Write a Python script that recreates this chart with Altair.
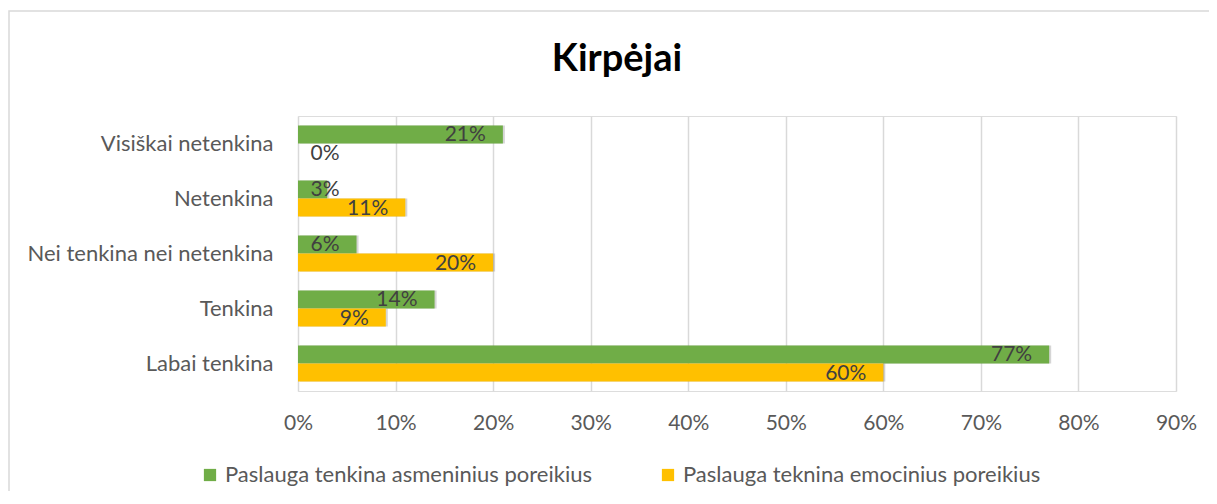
import altair as alt
import pandas as pd

title_text = "Kirpėjai"
categories = ["Visiškai netenkina", "Netenkina", "Nei tenkina nei netenkina", "Tenkina", "Labai tenkina"]
series_names = ["Paslauga tenkina asmeninius poreikius", "Paslauga teknina emocinius poreikius"]
asmeniniai = [0.21, 0.03, 0.06, 0.14, 0.77]
emociniai = [0.00, 0.11, 0.20, 0.09, 0.60]
colors = ["#70AD47", "#FFC000"]
x_ticks = [0, 0.1, 0.2, 0.3, 0.4, 0.5, 0.6, 0.7, 0.8, 0.9]

rows = []
for i, c in enumerate(categories):
    rows.append({"cat": c, "series": series_names[0], "v": asmeniniai[i]})
    rows.append({"cat": c, "series": series_names[1], "v": emociniai[i]})
df = pd.DataFrame(rows)

FONT = "Lato"
W, H = 878, 275

y_enc = alt.Y("cat:N", sort=categories, title=None,
              scale=alt.Scale(paddingInner=0.345, paddingOuter=0.1725),
              axis=alt.Axis(labelFontSize=22, labelColor="#595959", labelPadding=25,
                            ticks=False, domain=False, labelFont=FONT, labelLimit=400))
yoff = alt.YOffset("series:N", sort=series_names, scale=alt.Scale(paddingInner=0, paddingOuter=0))
x_scale = alt.Scale(domain=[0, 0.9], nice=False)

base = alt.Chart(df)

shadow = base.mark_bar(color="#404040", opacity=0.22, xOffset=2).encode(
    x=alt.X("v:Q", scale=x_scale),
    y=y_enc,
    yOffset=yoff,
)

bars = base.mark_bar().encode(
    x=alt.X("v:Q", scale=x_scale,
            axis=alt.Axis(values=x_ticks, format=".0%", title=None, labelFontSize=21,
                          labelColor="#595959", labelPadding=21, ticks=False, domain=False,
                          labelFlush=False, labelOverlap=False,
                          gridColor="#d9d9d9", gridWidth=1.5, labelFont=FONT)),
    y=y_enc,
    yOffset=yoff,
    color=alt.Color("series:N", sort=series_names,
                    scale=alt.Scale(domain=series_names, range=colors),
                    legend=alt.Legend(title=None, orient="none", direction="horizontal",
                                      legendX=-99, legendY=348, symbolType="square",
                                      symbolSize=150, symbolStrokeWidth=0, labelFontSize=22,
                                      labelColor="#595959", columnPadding=65, labelOffset=4,
                                      labelFont=FONT, labelLimit=600)),
)

labels = base.transform_calculate(lx="max(datum.v, 0.06)").mark_text(
    align="right", baseline="middle", dx=-17, dy=1, fontSize=21, color="#404040", font=FONT
).encode(
    x=alt.X("lx:Q", scale=x_scale),
    y=y_enc,
    yOffset=yoff,
    text=alt.Text("v:Q", format=".0%"),
)

title_df = pd.DataFrame({"t": [title_text]})
title = alt.Chart(title_df).mark_text(
    align="center", baseline="middle", fontSize=38, fontWeight="bold", color="#000000", font=FONT
).encode(x=alt.value(319), y=alt.value(-56), text="t:N")

frame_df = pd.DataFrame({"a": [0]})
border = alt.Chart(frame_df).mark_rect(
    fillOpacity=0, stroke="#d9d9d9", strokeWidth=1.5
).encode(x=alt.value(-289), x2=alt.value(960), y=alt.value(-105), y2=alt.value(420))

chart = alt.layer(border, shadow, bars, labels, title).properties(
    width=W, height=H,
    autosize=alt.AutoSizeParams(type="none"),
    padding={"left": 290, "top": 108, "right": 33, "bottom": 100},
).configure_view(stroke=None).configure(font=FONT)

chart.save("out.html", embed_options={"renderer": "svg", "actions": False})
